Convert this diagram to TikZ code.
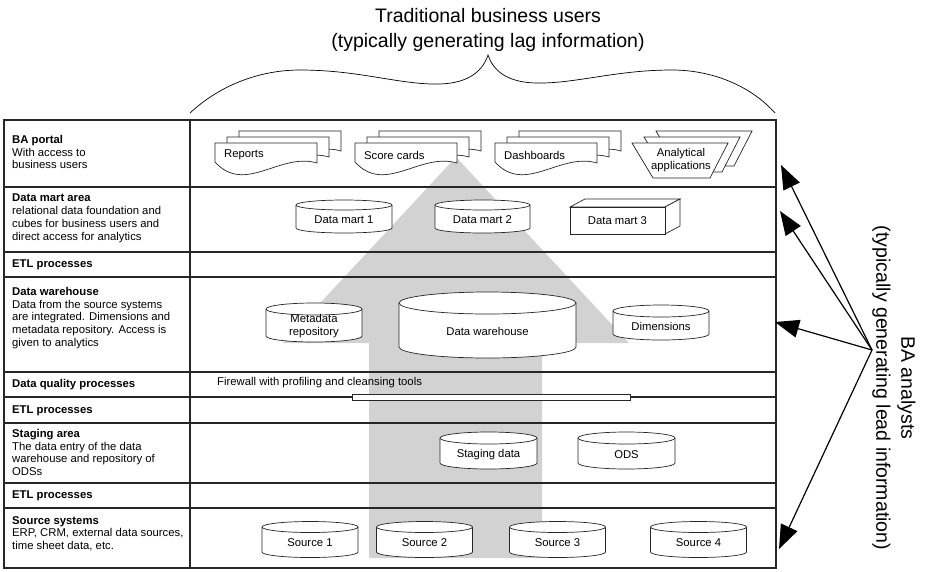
\documentclass[tikz,border=0pt]{standalone}
\usepackage{fontspec}
\setmainfont{Liberation Sans}
\usetikzlibrary{arrows.meta}

% database cylinder: name, centre x, top y, bottom y, half width, y radius, text
\newcommand{\dbcyl}[7]{%
  \draw[part] (#2-#5,#3) -- (#2-#5,#4) arc[start angle=180,end angle=360,x radius=#5,y radius=#6] -- (#2+#5,#3);
  \draw[part] (#2,#3) ellipse[x radius=#5,y radius=#6];
  \node[txt] (#1) at ({#2},{0.5*(#3)+0.5*(#4)-0.6*(#6)}) {#7};
}
% stack of three report pages: name, left x, top y, text
\newcommand{\stackdoc}[4]{%
  \foreach \k in {2,1,0} {
    \pgfmathsetmacro{\docx}{#2+12*\k}
    \pgfmathsetmacro{\docy}{#3+6*\k}
    \draw[part] (\docx,\docy) -- (\docx+102,\docy) -- (\docx+102,\docy-20)
      .. controls (\docx+65,\docy-9) and (\docx+30,\docy-52) .. (\docx,\docy-19) -- cycle;
  }
  \node[txt, anchor=west] (#1) at (#2+9,#3-12) {#4};
}

\begin{document}
\begin{tikzpicture}[x=1pt,y=1pt,
  grid/.style={draw=black!85, line width=1.1pt},
  part/.style={draw=black!85, fill=white, line width=0.7pt},
  txt/.style={font=\fontsize{11.3}{12.8}\selectfont, inner sep=0pt, align=center},
  rowlabel/.style={txt, anchor=north west, align=left},
  biglabel/.style={font=\fontsize{19.5}{25}\selectfont, inner sep=0pt, align=center},
  usearrow/.style={line width=1.2pt, -{Triangle[length=24pt,width=18pt]}}]
\useasboundingbox (0,0) rectangle (928,-571);

% Big flow arrow (background)
\fill[gray!35] (369,-558) -- (369,-343) -- (283,-343) -- (456,-157) -- (629,-343)
  -- (542,-343) -- (542,-558) -- cycle;

% Table
\draw[grid] (4,-120) rectangle (776,-568);
\draw[grid] (190,-120) -- (190,-568);
\foreach \y in {187,252,277,372,397,423,483,508} {
    \draw[grid] (4,-\y) -- (776,-\y);
}

% Row labels
\node[rowlabel] (portal) at (12,-135) {\textbf{BA portal}\\With access to\\business users};
\node[rowlabel] (martarea) at (12,-194) {\textbf{Data mart area}\\relational data foundation and\\cubes for business users and\\direct access for analytics};
\node[rowlabel, anchor=west] (etlone) at (12,-265) {\textbf{ETL processes}};
\node[rowlabel] (dwarea) at (12,-287) {\textbf{Data warehouse}\\Data from the source systems\\are integrated. Dimensions and\\metadata repository. Access is\\given to analytics};
\node[rowlabel, anchor=west] (quality) at (12,-385) {\textbf{Data quality processes}};
\node[rowlabel, anchor=west] (etltwo) at (12,-410.5) {\textbf{ETL processes}};
\node[rowlabel] (stagearea) at (12,-429) {\textbf{Staging area}\\The data entry of the data\\warehouse and repository of\\ODSs};
\node[rowlabel, anchor=west] (etlthree) at (12,-496) {\textbf{ETL processes}};
\node[rowlabel] (sources) at (12,-516) {\textbf{Source systems}\\ERP, CRM, external data sources,\\time sheet data, etc.};

% BA portal
\stackdoc{reports}{215}{-143}{Reports}
\stackdoc{scorecards}{355}{-143}{Score cards}
\stackdoc{dashboards}{495}{-143}{Dashboards}
\foreach \k in {2,1,0} {
    \draw[part] (632+12*\k,-143+6*\k) -- (728+12*\k,-143+6*\k) -- (710+12*\k,-178+6*\k) -- (653+12*\k,-178+6*\k) -- cycle;
}
\node[txt] (apps) at (681,-160) {Analytical\\applications};

% Data marts
\dbcyl{mart1}{344}{-205}{-228}{48}{5}{Data mart 1}
\dbcyl{mart2}{482.5}{-205}{-228}{47.5}{5}{Data mart 2}
\draw[part] (570,-207) -- (585,-199) -- (680,-199) -- (665,-207) -- cycle;
\draw[part] (665,-207) -- (680,-199) -- (680,-226) -- (665,-234) -- cycle;
\draw[part] (570,-207) rectangle (665,-234);
\node[txt] (mart3) at (617.5,-220.5) {Data mart 3};

% Data warehouse
\dbcyl{meta}{314}{-309}{-336}{48}{6}{Metadata\\repository}
\dbcyl{dw}{487.5}{-303}{-347}{88.5}{11}{Data warehouse}
\dbcyl{dims}{661}{-311}{-334}{48}{6}{Dimensions}

% Firewall
\node[txt, anchor=west] (firewall) at (217,-383) {Firewall with profiling and cleansing tools};
\draw[part] (352,-394) rectangle (630,-400);

% Staging and sources
\dbcyl{staging}{488.5}{-438}{-463}{48.5}{6}{Staging data}
\dbcyl{ods}{626.5}{-438}{-463}{48.5}{6}{ODS}
\foreach \cx/\n in {310/1,424.5/2,557.5/3,698.5/4} {
    \dbcyl{src\n}{\cx}{-527}{-552}{48}{5.5}{Source \n}
}

% Business users brace
\node[biglabel] (users) at (488,-30) {Traditional business users\\(typically generating lag information)};
\draw[line width=0.7pt] (190,-113) .. controls (220,-85) and (260,-70) .. (300,-70)
  .. controls (360,-70) and (400,-85) .. (440,-84)
  .. controls (470,-83) and (483,-70) .. (488,-55)
  .. controls (493,-70) and (506,-82) .. (535,-83)
  .. controls (575,-84) and (615,-70) .. (672,-70)
  .. controls (711,-70) and (750,-85) .. (775,-113);

% BA analysts
\node[biglabel, rotate=-90] (analystlabel) at (894,-388) {BA analysts\\(typically generating lead information)};
\coordinate (analysts) at (872,-350);
\coordinate (portaltip) at (781,-165);
\coordinate (marttip) at (780,-211);
\coordinate (dwtip) at (775,-322);
\coordinate (srctip) at (779,-549);
\foreach \t in {portaltip,marttip,dwtip,srctip} {
    \draw[usearrow] (analysts) -- (\t);
}

\end{tikzpicture}
\end{document}
